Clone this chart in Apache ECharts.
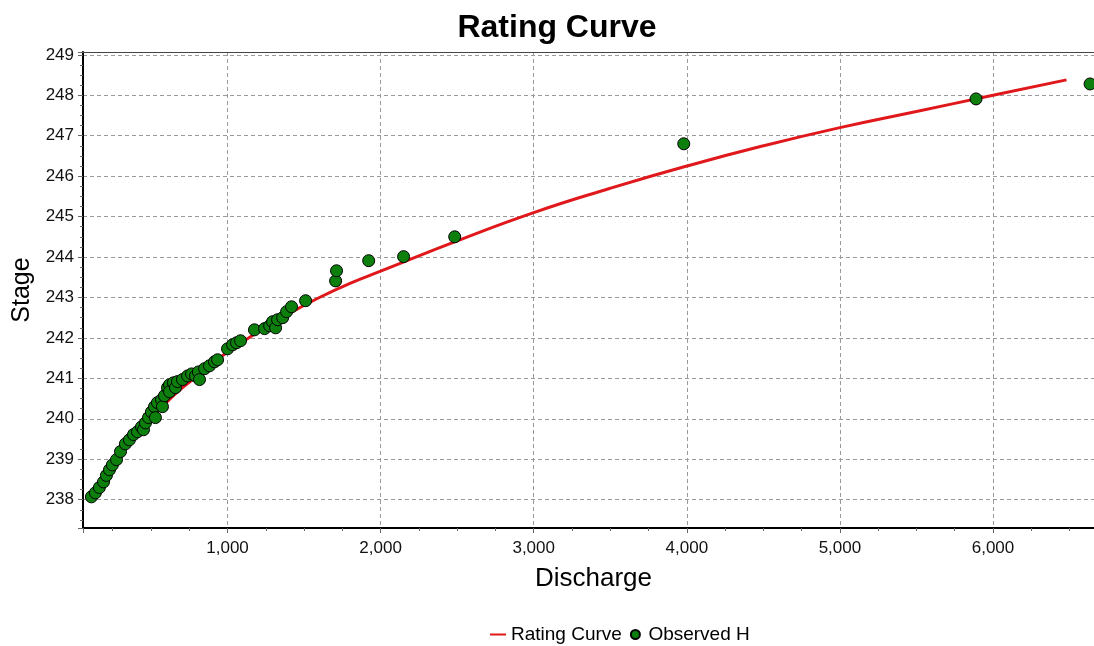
<!DOCTYPE html>
<html>
<head>
<meta charset="utf-8">
<script src="https://cdn.jsdelivr.net/npm/echarts@6/dist/echarts.min.js"></script>
<style>
  html, body { margin: 0; padding: 0; background: #fff; }
  #main { width: 1094px; height: 646px; }
</style>
</head>
<body>
<div id="main"></div>
<script>
// rating curve
var curveQ = [110, 150, 200, 300, 400, 500, 600, 700, 800, 900, 1000, 1200, 1400, 1600, 1800, 2000, 2500, 3000, 3500, 4000, 4500, 5000, 5500, 6000, 6480];
var curveH = [238.02, 238.2, 238.5, 239.1, 239.6, 240.0, 240.4, 240.75, 241.05, 241.35, 241.65, 242.15, 242.6, 243.0, 243.35, 243.65, 244.4, 245.1, 245.7, 246.25, 246.75, 247.2, 247.6, 248.0, 248.38];

// observed points
var obsQ = [111, 137, 163, 190, 209, 229, 248, 275, 301, 333, 359, 386, 412, 438, 451, 464, 484, 503, 523, 529, 542, 569, 575, 588, 608, 621, 621, 647, 660, 673, 706, 739, 765, 791, 810, 817, 850, 882, 915, 935,
  1000, 1033, 1059, 1085, 1176, 1242, 1275, 1294, 1314, 1327, 1360, 1386, 1418, 1510, 1706, 1712, 1922, 2150, 2484, 3980, 5889, 6634];
var obsH = [238.07, 238.17, 238.3, 238.44, 238.6, 238.74, 238.86, 238.99, 239.19, 239.38, 239.48, 239.61, 239.68, 239.8, 239.73, 239.9, 240.03, 240.17, 240.3, 240.03, 240.4, 240.47, 240.3, 240.57, 240.77, 240.84, 240.67, 240.89, 240.77, 240.92, 240.97, 241.06, 241.11, 241.06, 241.16, 240.97, 241.24, 241.31, 241.41, 241.46,
  241.73, 241.83, 241.88, 241.93, 242.2, 242.23, 242.3, 242.4, 242.25, 242.45, 242.5, 242.65, 242.77, 242.92, 243.41, 243.66, 243.91, 244.01, 244.5, 246.8, 247.91, 248.28];

var curveData = [];
for (var i = 0; i < curveQ.length; i++) curveData.push([curveQ[i], curveH[i]]);
var obsData = [];
for (var j = 0; j < obsQ.length; j++) obsData.push([obsQ[j], obsH[j]]);

var font = "'Liberation Sans', Arial, sans-serif";
var gridLine = { show: true, lineStyle: { color: "#9a9a9a", width: 1, type: [4, 3] } };

var myChart = echarts.init(document.getElementById("main"));
myChart.setOption({
  animation: false,
  textStyle: { fontFamily: font },
  title: {
    text: "Rating Curve",
    left: 552, top: 7, textAlign: "center",
    textStyle: { fontSize: 32, fontWeight: "bold", color: "#000", fontFamily: font }
  },
  // plot runs a little past the right edge, as in the picture
  grid: { left: 83, right: -10, top: 52, bottom: 118, outerBoundsMode: "none", containLabel: false },
  legend: {
    left: 484, top: 620,
    itemWidth: 16, itemHeight: 9, itemGap: 8,
    textStyle: { fontSize: 19, color: "#000", fontFamily: font },
    data: [
      { name: "Rating Curve", itemStyle: { color: "rgba(0,0,0,0)", borderColor: "rgba(0,0,0,0)", borderWidth: 0 } },
      { name: "Observed H", icon: "circle" }
    ]
  },
  xAxis: [
    {
      type: "value",
      min: 56, max: 6725, splitNumber: 7,
      name: "Discharge", nameLocation: "middle", nameGap: 38,
      nameTextStyle: { fontSize: 26, color: "#000", fontFamily: font },
      axisLine: { show: true, onZero: false, lineStyle: { color: "#000", width: 2 } },
      axisTick: { show: true, length: 5, lineStyle: { color: "#666" } },
      minorTick: { show: true, splitNumber: 4, length: 3, lineStyle: { color: "#666" } },
      splitLine: gridLine,
      axisLabel: {
        fontSize: 17, color: "#111", margin: 12, fontFamily: font,
        formatter: function (v) { return v % 1000 === 0 ? v.toLocaleString("en-US") : ""; }
      }
    },
    {
      // thin frame line along the top
      type: "value", position: "top",
      min: 56, max: 6725,
      axisLine: { show: true, onZero: false, lineStyle: { color: "#444", width: 1 } },
      axisTick: { show: false }, axisLabel: { show: false }, splitLine: { show: false }
    }
  ],
  yAxis: {
    type: "value",
    min: 237.3, max: 249.07, splitNumber: 12,
    name: "Stage", nameLocation: "middle", nameGap: 48, nameRotate: 90,
    nameTextStyle: { fontSize: 25, color: "#000", fontFamily: font },
    axisLine: { show: true, onZero: false, lineStyle: { color: "#000", width: 2 } },
    axisTick: { show: true, length: 5, lineStyle: { color: "#666" } },
    minorTick: { show: true, splitNumber: 4, length: 3, lineStyle: { color: "#666" } },
    splitLine: gridLine,
    axisLabel: {
      fontSize: 17, color: "#111", margin: 9, fontFamily: font,
      formatter: function (v) { return Math.abs(v - Math.round(v)) < 1e-6 ? String(Math.round(v)) : ""; }
    }
  },
  series: [
    {
      name: "Rating Curve",
      type: "line",
      data: curveData,
      smooth: true,
      symbol: "none",
      z: 2,
      itemStyle: { color: "#e0181b" },
      lineStyle: { color: "#e0181b", width: 3 }
    },
    {
      name: "Observed H",
      type: "scatter",
      data: obsData,
      symbolSize: 12,
      z: 3,
      itemStyle: { color: "#0c7f0c", borderColor: "#000", borderWidth: 1, opacity: 1 }
    }
  ]
});
</script>
</body>
</html>
